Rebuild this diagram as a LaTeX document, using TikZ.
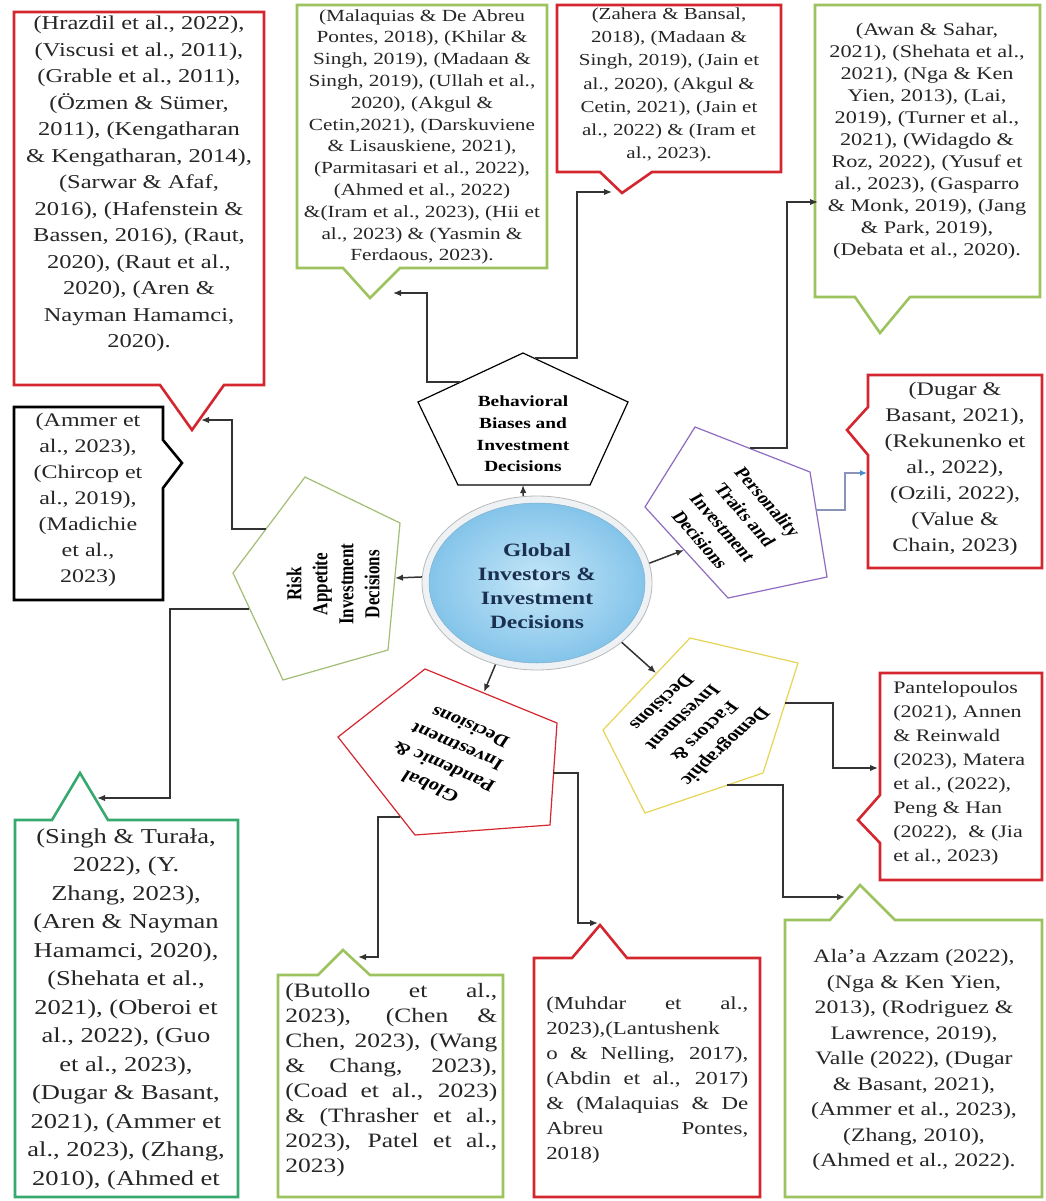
\documentclass[tikz,border=0pt]{standalone}
\usepackage{fontspec}
\setmainfont{Liberation Serif}
\usetikzlibrary{arrows.meta,shapes.geometric}

\definecolor{cred}{HTML}{D3262F}
\definecolor{cgreen}{HTML}{9DC35E}
\definecolor{cteal}{HTML}{36A96F}
\definecolor{cpurple}{HTML}{8F6CC0}
\definecolor{cyellow}{HTML}{E6D456}
\definecolor{crisk}{HTML}{A3BD74}
\definecolor{cnavy}{HTML}{1B3050}
\definecolor{cpath}{HTML}{8A93B8}
\definecolor{ctip}{HTML}{3E8FD2}
\definecolor{cink}{HTML}{262626}
\definecolor{chubin}{HTML}{C6E7F8}
\definecolor{chubout}{HTML}{84C4EA}
\definecolor{chubring}{HTML}{EEF2F5}

\newcommand\fs[2]{\fontsize{#1}{#2}\selectfont}
% justified lines for the two bottom boxes
\newcommand\jlA[1]{\makebox[169.6pt][s]{#1}}
\newcommand\jlB[1]{\makebox[161.6pt][s]{#1}}

\begin{document}
\begin{tikzpicture}[x=1pt,y=-1pt,
  callout/.style={line width=2.6pt, line join=miter, fill=white},
  pent/.style={line width=1.2pt, line join=miter, fill=white},
  cite/.style={inner sep=0pt, align=center, xscale=1.25, text=cink},
  plabel/.style={inner sep=0pt, align=center, xscale=1.25, text=black},
  link/.style={line width=1.5pt, draw=black!80, -{Latex[length=8pt,width=6.5pt]}},
]
\useasboundingbox[fill=white] (0,0) rectangle (1045,1201);

% ---------- citation callouts ----------
\draw[callout, draw=cred] (14,12) -- (264,12) -- (264,385) -- (224,385)
  -- (192,430) coordinate (r1tip) -- (160,385) -- (14,385) -- cycle;
\draw[callout, draw=cgreen] (297,5) -- (547,5) -- (547,268) -- (400,268)
  -- (370,298) coordinate (g1tip) -- (343,268) -- (297,268) -- cycle;
\draw[callout, draw=cred] (557,5) -- (781,5) -- (781,172) -- (652,172)
  -- (622,193) coordinate (r2tip) -- (600,172) -- (557,172) -- cycle;
\draw[callout, draw=cgreen] (815,5) -- (1040,5) -- (1040,297) -- (910,297)
  -- (880,333) coordinate (g2tip) -- (855,297) -- (815,297) -- cycle;
\draw[callout, draw=black] (14,407) -- (163,407) -- (163,440)
  -- (182,463) coordinate (b1tip) -- (163,488) -- (163,600) -- (14,600) -- cycle;
\draw[callout, draw=cred] (868,375) -- (1042,375) -- (1042,568) -- (868,568)
  -- (868,455) -- (847,430) coordinate (r3tip) -- (868,407) -- cycle;
\draw[callout, draw=cred] (880,673) -- (1042,673) -- (1042,880) -- (880,880)
  -- (880,843) -- (858,820) coordinate (r4tip) -- (880,795) -- cycle;
\draw[callout, draw=cteal] (15,820) -- (52,820) -- (80,773) coordinate (g3tip)
  -- (108,820) -- (238,820) -- (238,1197) -- (15,1197) -- cycle;
\draw[callout, draw=cgreen] (278,975) -- (318,975) -- (343,950) coordinate (g5tip)
  -- (370,975) -- (503,975) -- (503,1197) -- (278,1197) -- cycle;
\draw[callout, draw=cred] (534,958) -- (572,958) -- (600,925) coordinate (r5tip)
  -- (627,958) -- (760,958) -- (760,1197) -- (534,1197) -- cycle;
\draw[callout, draw=cgreen] (785,920) -- (830,920) -- (860,885) coordinate (g4tip)
  -- (895,920) -- (1042,920) -- (1042,1197) -- (785,1197) -- cycle;

% ---------- theme pentagons ----------
\draw[pent, draw=black] (523,353) -- (628,402) -- (590,485) -- (458,485) -- (418,402) -- cycle;
\draw[pent, draw=crisk] (305,477) -- (400,523) -- (388,650) -- (283,680) -- (233,573) -- cycle;
\draw[pent, draw=cpurple] (695,427) -- (810,472) -- (827,577) -- (728,598) -- (645,507) -- cycle;
\draw[pent, draw=cyellow] (690,638) -- (798,663) -- (763,773) -- (645,813) -- (603,730) -- cycle;
\draw[pent, draw=cred] (425,669) -- (557,723) -- (550,825) -- (415,835) -- (338,737) -- cycle;

% ports on the pentagon edges
\coordinate (bbS) at (523,485);
\coordinate (bbW) at (460,382);
\coordinate (bbE) at (535,358);
\coordinate (rkE) at (395,578);
\coordinate (rkN) at (266,529);
\coordinate (rkS) at (249,609);
\coordinate (ptW) at (684,550);
\coordinate (ptN) at (750,448);
\coordinate (ptE) at (816,510);
\coordinate (dmN) at (656,673);
\coordinate (dmE) at (785,703);
\coordinate (dmS) at (727,785);
\coordinate (gpN) at (484,692);
\coordinate (gpW) at (400,817);
\coordinate (gpE) at (553,773);

% ---------- central hub ----------
\node[ellipse, minimum width=230pt, minimum height=174pt, fill=chubring,
      draw=gray!55, line width=0.8pt] (hubring) at (537,583) {};
\node[ellipse, minimum width=216pt, minimum height=160pt, inner color=chubin,
      outer color=chubout, draw=chubout!70!gray, line width=0.5pt] (hub) at (537,583) {};
\node[plabel, text=cnavy, font=\fs{18.8}{24}\bfseries] (hubtxt) at (537,586)
  {Global\\Investors \&\\Investment\\Decisions};

% ---------- connectors ----------
\draw[link] (hubring.99) -- (bbS);
\draw[link] (hubring.177) -- (rkE);
\draw[link] (hubring.10) -- (ptW);
\draw[link] (hubring.-35) -- (dmN);
\draw[link] (hubring.-117) -- (gpN);

\draw[link] (rkN) -- (232,529) -- (232,420) -- (201,420);
\draw[link] (rkS) -- (170,609) -- (170,798) -- (97,798);
\draw[link] (bbW) -- (427,382) -- (427,293) -- (393,293);
\draw[link] (bbE) -- (577,358) -- (577,192) -- (612,192);
\draw[link] (ptN) -- (787,448) -- (787,202) -- (818,202);
\draw[line width=1.3pt, draw=cpath, -{Latex[length=7pt,width=6pt,color=ctip]}]
  (ptE) -- (845,510) -- (845,473) -- (867,473);
\draw[link] (dmE) -- (833,703) -- (833,768) -- (878,768);
\draw[link] (dmS) -- (783,785) -- (783,897) -- (845,897);
\draw[link] (gpW) -- (378,817) -- (378,957) -- (358,957);
\draw[link] (gpE) -- (578,773) -- (578,923) -- (598,923);

% ---------- pentagon labels ----------
\node[plabel, font=\fs{15.5}{21.7}\bfseries] (bbtxt) at (523,434)
  {Behavioral\\Biases and\\Investment\\Decisions};
\node[plabel, rotate=90, font=\fs{17}{20.8}\bfseries] (rktxt) at (333,584)
  {Risk\\Appetite\\Investment\\Decisions};
\node[plabel, rotate=-55, font=\fs{16.5}{22}\bfseries] (pttxt) at (734,521)
  {Personality\\Traits and\\Investment\\Decisions};
\node[plabel, rotate=229, font=\fs{17}{22.5}\bfseries] (dmtxt) at (694,725)
  {Demographic\\Factors \&\\Investment\\Decisions};
\node[plabel, rotate=152, font=\fs{17}{22.5}\bfseries] (gptxt) at (450,757)
  {Global\\Pandemic \&\\Investment\\Decisions};

% ---------- citation texts ----------
\node[cite, font=\fs{19.6}{26.5}] (r1txt) at (139,184)
  {(Hrazdil et al., 2022),\\(Viscusi et al., 2011),\\(Grable et al., 2011),\\(Özmen \& Sümer,\\2011), (Kengatharan\\\& Kengatharan, 2014),\\(Sarwar \& Afaf,\\2016), (Hafenstein \&\\Bassen, 2016), (Raut,\\2020), (Raut et al.,\\2020), (Aren \&\\Nayman Hamamci,\\2020).};
\node[cite, font=\fs{17}{21.8}] (g1txt) at (422,137)
  {(Malaquias \& De Abreu\\Pontes, 2018), (Khilar \&\\Singh, 2019), (Madaan \&\\Singh, 2019), (Ullah et al.,\\2020), (Akgul \&\\Cetin,2021), (Darskuviene\\\& Lisauskiene, 2021),\\(Parmitasari et al., 2022),\\(Ahmed et al., 2022)\\\&(Iram et al., 2023), (Hii et\\al., 2023) \& (Yasmin \&\\Ferdaous, 2023).};
\node[cite, font=\fs{16.8}{23.3}] (r2txt) at (669,85)
  {(Zahera \& Bansal,\\2018), (Madaan \&\\Singh, 2019), (Jain et\\al., 2020), (Akgul \&\\Cetin, 2021), (Jain et\\al., 2022) \& (Iram et\\al., 2023).};
\node[cite, font=\fs{17.8}{22}] (g2txt) at (927,141)
  {(Awan \& Sahar,\\2021), (Shehata et al.,\\2021), (Nga \& Ken\\Yien, 2013), (Lai,\\2019), (Turner et al.,\\2021), (Widagdo \&\\Roz, 2022), (Yusuf et\\al., 2023), (Gasparro\\\& Monk, 2019), (Jang\\\& Park, 2019),\\(Debata et al., 2020).};
\node[cite, font=\fs{19.2}{26}] (b1txt) at (88,500)
  {(Ammer et\\al., 2023),\\(Chircop et\\al., 2019),\\(Madichie\\et al.,\\2023)};
\node[cite, font=\fs{19.2}{26}] (r3txt) at (955,469)
  {(Dugar \&\\Basant, 2021),\\(Rekunenko et\\al., 2022),\\(Ozili, 2022),\\(Value \&\\Chain, 2023)};
\node[cite, align=left, anchor=west, font=\fs{17.6}{24}] (r4txt) at (893,773)
  {Pantelopoulos\\(2021), Annen\\\& Reinwald\\(2023), Matera\\et al., (2022),\\Peng \& Han\\(2022), \ \& (Jia\\et al., 2023)};
\node[cite, font=\fs{21.2}{28.5}] (g3txt) at (126,1009)
  {(Singh \& Turała,\\2022), (Y.\\Zhang, 2023),\\(Aren \& Nayman\\Hamamci, 2020),\\(Shehata et al.,\\2021), (Oberoi et\\al., 2022), (Guo\\et al., 2023),\\(Dugar \& Basant,\\2021), (Ammer et\\al., 2023), (Zhang,\\2010), (Ahmed et};
\node[cite, align=left, anchor=west, font=\fs{20.4}{25}] (g5txt) at (285,1080)
  {\jlA{(Butollo et al.,}\\\jlA{2023), (Chen \&}\\\jlA{Chen, 2023), (Wang}\\\jlA{\& Chang, 2023),}\\\jlA{(Coad et al., 2023)}\\\jlA{\& (Thrasher et al.,}\\\jlA{2023), Patel et al.,}\\2023)};
\node[cite, align=left, anchor=west, font=\fs{18.3}{25}] (r5txt) at (546,1080)
  {\jlB{(Muhdar et al.,}\\\jlB{2023),(Lantushenk}\\\jlB{o \& Nelling, 2017),}\\\jlB{(Abdin et al., 2017)}\\\jlB{\& (Malaquias \& De}\\\jlB{Abreu Pontes,}\\2018)};
\node[cite, font=\fs{19}{25.5}] (g4txt) at (914,1060)
  {Ala’a Azzam (2022),\\(Nga \& Ken Yien,\\2013), (Rodriguez \&\\Lawrence, 2019),\\Valle (2022), (Dugar\\\& Basant, 2021),\\(Ammer et al., 2023),\\(Zhang, 2010),\\(Ahmed et al., 2022).};
\end{tikzpicture}
\end{document}
